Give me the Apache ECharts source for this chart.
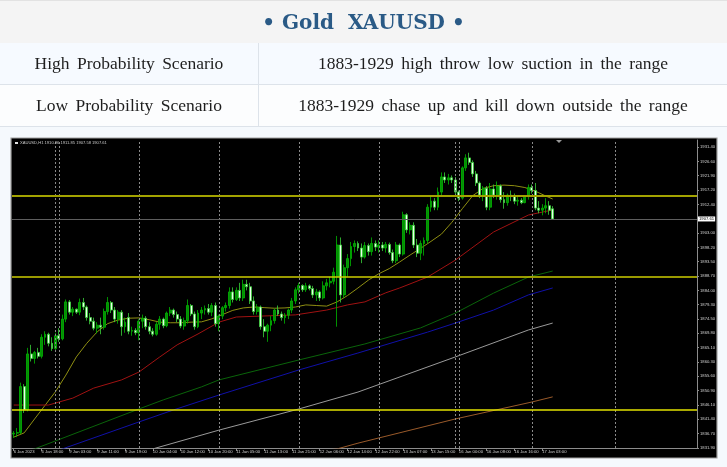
<!DOCTYPE html>
<html>
<head>
<meta charset="utf-8">
<script src="https://cdn.jsdelivr.net/npm/echarts@6/dist/echarts.min.js"></script>
<style>
html,body{margin:0;padding:0;background:#f5f9fd;}
#chart{position:absolute;left:0;top:0;width:727px;height:467px;}
.hdr{position:absolute;left:0;top:0;width:727px;height:127px;z-index:2;}
.cell{position:absolute;box-sizing:border-box;display:flex;align-items:center;justify-content:center;white-space:pre;}
.t{left:0;top:0;width:727px;height:44px;background:#f4f4f4;border-top:1px solid #e2e2e2;border-bottom:1px solid #dde3ea;
   font:bold 20px 'DejaVu Serif',serif;color:#2a5a86;}
.r{font:17.5px 'Liberation Serif',serif;word-spacing:3px;color:#1e1e1e;border-bottom:1px solid #dde3ea;height:42px;}
.l{left:0;width:259px;border-right:1px solid #dde3ea;}
.v{left:259px;width:468px;}
.r1{top:43px;background:#f6faff;}
.r2{top:85px;background:#fcfdfe;}
</style>
</head>
<body>
<div id="chart"></div>
<div class="hdr">
  <div class="cell t">• Gold  XAUUSD •</div>
  <div class="cell r r1 l">High Probability Scenario</div>
  <div class="cell r r1 v">1883-1929 high throw low suction in the range</div>
  <div class="cell r r2 l">Low Probability Scenario</div>
  <div class="cell r r2 v">1883-1929 chase up and kill down outside the range</div>
</div>
<script>
// ---- data ----
const symbolInfo = 'XAUUSD,H1 1910.96 1911.85 1907.58 1907.61';
// hourly candles: [open, high, low, close]
const xauH1 = [
[1836.5,1837.5,1835.2,1836.8],[1836.8,1838.5,1835.5,1837.0],[1837.0,1853.5,1836.5,1852.2],[1852.2,1853.0,1843.5,1844.5],
[1844.5,1865.0,1844.0,1863.0],[1863.0,1866.0,1860.5,1861.5],[1861.5,1864.0,1859.8,1863.5],[1863.5,1865.0,1861.5,1862.2],
[1862.2,1869.5,1861.5,1868.5],[1868.5,1870.5,1866.0,1869.5],[1869.5,1870.0,1865.5,1866.5],[1866.5,1868.5,1864.0,1864.8],
[1864.8,1870.0,1864.0,1869.0],[1869.0,1871.5,1867.0,1868.0],[1868.0,1876.0,1867.5,1874.5],[1874.5,1881.0,1873.5,1880.2],
[1880.2,1880.8,1876.0,1876.8],[1876.8,1878.5,1875.5,1877.8],[1877.8,1878.0,1876.2,1876.8],[1876.8,1881.3,1875.8,1880.0],
[1880.0,1881.5,1877.5,1878.5],[1878.5,1879.0,1874.0,1875.0],[1875.0,1876.5,1872.8,1873.8],[1873.8,1875.0,1870.8,1871.5],
[1871.5,1873.5,1869.8,1872.5],[1872.5,1875.0,1869.5,1871.8],[1871.8,1878.0,1871.0,1877.0],[1877.0,1881.8,1876.0,1880.0],
[1880.0,1880.5,1876.5,1877.5],[1877.5,1878.5,1873.5,1874.5],[1874.5,1877.5,1873.0,1876.8],[1876.8,1877.5,1869.0,1872.0],
[1872.0,1875.0,1870.0,1873.5],[1875.0,1876.5,1869.5,1870.5],[1870.5,1872.0,1869.0,1870.8],[1870.8,1871.5,1869.2,1870.0],
[1870.0,1874.5,1867.5,1873.8],[1873.8,1876.0,1871.5,1874.8],[1874.8,1875.5,1871.0,1872.0],[1872.0,1873.5,1869.5,1870.5],
[1870.5,1871.5,1868.8,1869.5],[1869.5,1873.5,1869.0,1872.8],[1872.8,1875.5,1871.0,1874.5],[1874.5,1875.0,1871.5,1872.3],
[1872.3,1877.0,1871.8,1876.5],[1876.5,1878.5,1875.5,1877.5],[1877.5,1878.0,1875.0,1876.0],[1876.0,1877.0,1873.5,1874.5],
[1874.5,1875.5,1871.5,1872.2],[1872.2,1875.0,1871.0,1874.0],[1874.0,1881.0,1873.0,1879.0],[1879.0,1879.5,1875.5,1876.2],
[1876.2,1877.0,1871.0,1872.0],[1872.0,1877.5,1871.5,1876.5],[1876.5,1878.5,1874.5,1877.5],[1877.5,1879.0,1876.0,1878.0],
[1878.0,1879.5,1876.0,1876.8],[1876.8,1879.8,1875.5,1879.0],[1879.0,1880.0,1872.0,1873.0],[1873.0,1876.0,1870.5,1875.5],
[1875.5,1878.8,1874.5,1878.3],[1878.3,1880.0,1877.0,1879.0],[1879.0,1885.0,1878.0,1883.5],[1883.5,1885.0,1880.0,1881.0],
[1881.0,1885.0,1880.5,1884.0],[1884.0,1886.5,1880.5,1881.5],[1881.5,1887.5,1880.5,1886.0],[1886.0,1887.5,1884.0,1885.2],
[1885.2,1886.5,1879.5,1880.5],[1880.5,1882.0,1876.0,1877.0],[1877.0,1879.5,1876.0,1878.5],[1878.5,1879.0,1871.0,1872.0],
[1872.0,1874.5,1868.5,1870.5],[1870.5,1873.0,1867.0,1872.5],[1872.5,1875.5,1870.5,1874.0],[1874.0,1878.0,1873.0,1877.5],
[1877.5,1879.0,1875.5,1876.2],[1876.2,1877.0,1874.0,1875.0],[1875.0,1876.5,1873.0,1875.8],[1875.8,1878.0,1874.5,1877.5],
[1877.5,1881.5,1876.5,1880.5],[1880.5,1885.0,1879.5,1884.2],[1884.2,1886.5,1883.0,1885.6],[1885.6,1886.0,1883.5,1884.2],
[1884.2,1886.5,1883.5,1885.5],[1885.5,1886.0,1884.0,1884.6],[1884.6,1885.5,1881.5,1882.5],[1882.5,1884.5,1880.5,1883.5],
[1883.5,1884.0,1880.5,1881.5],[1881.5,1887.0,1881.0,1885.5],[1885.5,1887.8,1884.0,1886.5],[1886.5,1888.5,1885.0,1887.0],
[1887.0,1891.5,1886.0,1890.0],[1888.5,1902.0,1872.0,1899.0],[1899.0,1901.5,1880.0,1882.5],[1882.5,1892.5,1881.5,1891.5],
[1891.5,1896.0,1888.5,1894.5],[1894.5,1900.0,1892.0,1898.5],[1898.5,1900.5,1896.5,1899.5],[1899.5,1900.2,1897.0,1898.0],
[1898.0,1899.5,1893.0,1895.0],[1895.0,1900.0,1894.5,1898.8],[1898.8,1899.5,1895.5,1896.8],[1896.8,1901.5,1895.5,1899.5],
[1899.5,1900.5,1897.0,1898.3],[1898.3,1900.5,1896.5,1899.0],[1899.0,1900.0,1897.0,1898.0],[1898.0,1900.0,1896.5,1899.2],
[1899.2,1899.8,1895.8,1896.5],[1896.5,1897.5,1893.0,1893.8],[1893.8,1900.0,1893.0,1899.0],[1899.0,1899.5,1895.0,1896.0],
[1896.0,1910.0,1895.5,1909.0],[1909.0,1909.5,1903.0,1904.0],[1904.0,1906.5,1902.5,1905.5],[1905.5,1906.5,1898.0,1899.0],
[1899.0,1901.0,1895.0,1896.3],[1896.3,1900.5,1894.0,1899.5],[1899.5,1901.5,1895.5,1900.5],[1900.5,1912.5,1899.5,1911.5],
[1911.5,1915.0,1910.0,1913.5],[1913.5,1914.5,1910.5,1911.5],[1911.5,1918.0,1910.5,1916.5],[1916.5,1923.0,1915.5,1921.5],
[1921.5,1923.0,1919.5,1920.5],[1920.5,1922.5,1919.0,1921.2],[1921.2,1922.0,1919.5,1920.5],[1920.5,1921.5,1915.5,1916.5],
[1916.5,1917.0,1913.5,1914.5],[1914.5,1925.0,1914.0,1924.5],[1924.5,1929.0,1923.5,1927.8],[1927.8,1929.5,1925.5,1926.3],
[1926.3,1927.0,1921.5,1922.5],[1922.5,1923.5,1918.5,1919.5],[1919.5,1920.0,1914.5,1915.5],[1915.5,1918.5,1913.5,1917.8],
[1917.8,1918.5,1910.5,1911.5],[1911.5,1919.5,1910.5,1917.5],[1917.5,1919.0,1914.5,1915.5],[1915.5,1920.0,1914.0,1918.5],
[1918.5,1919.0,1913.0,1914.0],[1914.0,1916.5,1911.0,1913.0],[1913.0,1916.0,1912.0,1915.5],[1915.5,1917.0,1913.5,1915.0],
[1915.0,1916.0,1912.5,1913.5],[1913.5,1915.0,1912.0,1913.8],[1913.8,1914.5,1912.5,1913.0],[1913.0,1915.5,1912.8,1915.0],
[1915.0,1919.0,1914.0,1918.0],[1918.0,1919.0,1916.0,1917.0],[1917.0,1919.5,1910.5,1911.2],[1911.2,1913.5,1909.5,1910.5],
[1910.5,1912.5,1908.8,1911.2],[1911.2,1914.5,1909.5,1912.0],[1912.0,1913.5,1909.0,1910.5],[1910.96,1911.85,1907.58,1907.61]
];
const emptyBarsRight = 41;
// moving averages, sampled as [barIndex, price]
const maOlive = [[0,1835.5],[3,1836.9],[6,1841.5],[9,1846],[12,1850.5],[15,1856],[18,1862],[21,1866.5],[24,1870.3],[27,1873],[30,1874.2],[33,1874.8],[36,1874.9],[39,1874.3],[42,1873.5],[45,1873.3],[48,1873.3],[51,1873.5],[54,1873.6],[57,1874.6],[60,1876],[63,1877.4],[66,1878.2],[69,1878.5],[72,1878.3],[75,1878.1],[78,1878.2],[81,1878.5],[84,1879.2],[87,1879],[90,1878.8],[93,1880.2],[96,1882.3],[99,1884.8],[102,1887.4],[105,1889.5],[108,1891.2],[111,1893.4],[114,1895.7],[117,1897.9],[120,1900.2],[123,1902.6],[126,1906.5],[129,1911],[132,1915.3],[135,1917.7],[138,1918.6],[141,1918.8],[144,1918.6],[147,1918],[150,1916.8],[153,1915.2],[155,1914.2]];
const maRed = [[0,1846.1],[10,1846.1],[17,1848.4],[23,1851.7],[31,1854.4],[36,1857],[42,1862],[47,1866],[53,1869.6],[59,1873.5],[64,1875.2],[71,1875.5],[81,1875.9],[90,1877.5],[96,1879.2],[101,1880.2],[107,1883.2],[111,1884.8],[119,1888.4],[127,1894],[138,1903.3],[148,1908.9],[155,1910.6]];
const maGreen = [[0,1829.9],[6,1831.6],[36,1844.8],[43,1847.8],[54,1852.1],[59,1854.4],[82,1861],[101,1866.3],[117,1871.6],[127,1876.5],[138,1883.1],[148,1888.4],[155,1890.4]];
const maBlue = [[0,1826],[14,1831.6],[36,1840.5],[46,1844.5],[59,1849.4],[82,1857.7],[99,1863.3],[119,1870.2],[127,1873.2],[138,1877.5],[148,1882.5],[155,1884.8]];
const maGray = [[30,1829.6],[40,1831.6],[59,1837.8],[82,1844.8],[99,1850.4],[127,1862],[148,1870.9],[155,1873.2]];
const maBrown = [[85,1830.6],[93,1831.6],[99,1833.5],[127,1841.5],[149,1847.1],[155,1848.8]];
const levelPrices = [1915.2, 1888.4, 1844.4];
const lastPrice = 1907.61;
const daySeparators = [12, 13, 36, 59, 82, 105, 127, 128, 149, 173];
const xTickLabels = ['6 Jan 2023','6 Jan 18:00','9 Jan 03:00','9 Jan 11:00','9 Jan 19:00','10 Jan 04:00','10 Jan 12:00','10 Jan 20:00','11 Jan 05:00','11 Jan 13:00','11 Jan 21:00','12 Jan 06:00','12 Jan 14:00','12 Jan 22:00','13 Jan 07:00','13 Jan 15:00','16 Jan 00:00','16 Jan 08:00','16 Jan 16:00','17 Jan 03:00'];
const xTickStep = 8;
const yTickLabels = ['1831.90','1836.70','1841.40','1846.10','1850.90','1855.60','1860.30','1865.10','1869.80','1874.50','1879.30','1884.00','1888.70','1893.50','1898.20','1903.00','1912.40','1917.20','1921.90','1926.60','1931.40'];
const yMin = 1831.9, yMax = 1933.71;

// ---- chart ----
const totalSlots = xauH1.length + emptyBarsRight;
const categories = Array.from({length: totalSlots}, (_, i) => String(i));
const candleData = xauH1.map(r => [r[0], r[3], r[2], r[1]]);
const showTick = (idx) => idx % xTickStep === 0 && idx / xTickStep < xTickLabels.length;
const yTickValues = yTickLabels.map(Number);
const labelFont = 'Liberation Sans';

const chart = echarts.init(document.getElementById('chart'), null, {renderer: 'canvas'});
const maSeries = (name, data, color) => ({
  name, type: 'line', data, symbol: 'none', smooth: false, silent: true,
  lineStyle: {color, width: 1}, z: 3
});
const seriesOlive = maSeries('MA1', maOlive, '#8f8f12');
seriesOlive.markLine = {
  silent: true, symbol: ['none', 'none'], animation: false,
  data: [
    {yAxis: levelPrices[0], lineStyle: {color: '#a3a300', width: 2, type: 'solid'}, label: {show: false}},
    {yAxis: levelPrices[1], lineStyle: {color: '#cccc00', width: 1.5, type: 'solid'}, label: {show: false}},
    {yAxis: levelPrices[2], lineStyle: {color: '#e2e200', width: 1.5, type: 'solid'}, label: {show: false}},
    {yAxis: lastPrice, lineStyle: {color: '#5e5e5e', width: 1, type: 'solid'},
     label: {show: true, position: 'end', distance: 1, formatter: lastPrice.toFixed(2), backgroundColor: '#ffffff',
             color: '#000', fontSize: 4.2, fontFamily: labelFont, padding: [1, 1, 0, 1]}}
  ]
};

const option = {
  animation: false,
  backgroundColor: 'transparent',
  graphic: [
    {type: 'rect', z: -10, shape: {x: 11, y: 138, width: 706, height: 320}, style: {fill: '#000', stroke: '#a0a0a0', lineWidth: 1.2}},
    {type: 'rect', z: 100, shape: {x: 15, y: 142, width: 3, height: 2}, style: {fill: '#e0e0e0'}},
    {type: 'polygon', z: 100, shape: {points: [[556, 140], [562, 140], [559, 143]]}, style: {fill: '#9a9a9a'}}
  ],
  title: {text: symbolInfo, left: 20, top: 141, padding: 0,
          textStyle: {color: '#c8c8c8', fontSize: 4.1, fontWeight: 'normal', fontFamily: labelFont}},
  grid: {left: 12, top: 140, width: 685, height: 308},
  xAxis: {
    type: 'category', data: categories, boundaryGap: true,
    axisLine: {lineStyle: {color: '#8c8c8c', width: 1}},
    axisTick: {show: true, interval: showTick, alignWithLabel: true, length: 3, lineStyle: {color: '#8c8c8c'}},
    axisLabel: {interval: showTick, formatter: (v, idx) => xTickLabels[idx / xTickStep] || '',
                align: 'left', margin: 2, color: '#d0d0d0', fontSize: 4.2, fontFamily: labelFont},
    splitLine: {show: false}
  },
  yAxis: {
    type: 'value', position: 'right', min: yMin, max: yMax, scale: true,
    axisLine: {show: true, lineStyle: {color: '#8c8c8c', width: 1}},
    axisTick: {show: true, length: 2, customValues: yTickValues, lineStyle: {color: '#8c8c8c'}},
    axisLabel: {customValues: yTickValues, formatter: (v) => v.toFixed(2), margin: 3,
                color: '#d0d0d0', fontSize: 4.2, fontFamily: labelFont},
    splitLine: {show: false}
  },
  series: [
    {
      name: 'XAUUSD', type: 'candlestick', data: candleData, barWidth: 2.4, z: 4,
      itemStyle: {color: '#078a07', color0: '#eaffea', borderColor: '#00b800', borderColor0: '#3ad23a', borderWidth: 0.8},
      markLine: {
        silent: true, symbol: ['none', 'none'], animation: false, label: {show: false},
        lineStyle: {color: '#8a8a8a', width: 1, type: [2, 2]},
        data: daySeparators.map(i => ({xAxis: categories[i]}))
      }
    },
    seriesOlive,
    maSeries('MA2', maRed, '#a01212'),
    maSeries('MA3', maGreen, '#0a640a'),
    maSeries('MA4', maBlue, '#1010a8'),
    maSeries('MA5', maGray, '#9a9a9a'),
    maSeries('MA6', maBrown, '#9a5a2a')
  ]
};
chart.setOption(option);
</script>
</body>
</html>
